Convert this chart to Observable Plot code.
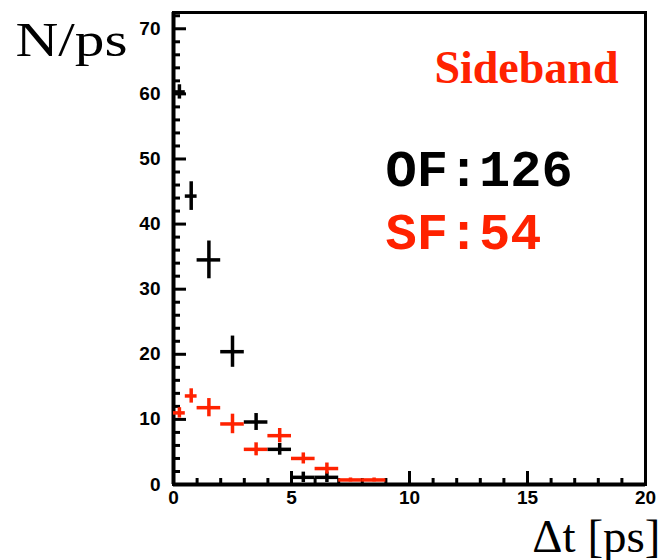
<!DOCTYPE html>
<html>
<head>
<meta charset="utf-8">
<script src="https://cdn.jsdelivr.net/npm/d3@7"></script>
<script src="https://cdn.jsdelivr.net/npm/@observablehq/plot@0.6"></script>
<style>
  html, body { margin: 0; padding: 0; background: #fff; }
  #chart { width: 664px; height: 560px; }
</style>
</head>
<body>
<div id="chart"></div>
<script>
// Bin edges (ps)
const binLo = [0, 0.5, 1, 2, 3, 4, 5, 6, 7, 8];
const binHi = [0.5, 1, 2, 3, 4, 5, 6, 7, 8, 9];
// OF (black) counts per ps and errors
const ofValue = [60.3, 44.3, 34.5, 20.4, 9.6, 5.4, 1.1, 1.1, 0, 0];
const ofError = [1.1, 2.2, 2.9, 2.4, 1.3, 0.9, 0.8, 0.8, 0, 0];
// SF (red) counts per ps and errors
const sfValue = [11.0, 13.6, 11.8, 9.3, 5.4, 7.5, 4.0, 2.45, 0.7, 0.7];
const sfError = [0.8, 1.1, 1.4, 1.5, 1.0, 1.1, 0.85, 0.85, 0.3, 0.3];

const yMajor = [0, 10, 20, 30, 40, 50, 60, 70];
const yMinor = [2, 4, 6, 8, 12, 14, 16, 18, 22, 24, 26, 28, 32, 34, 36, 38, 42, 44, 46, 48, 52, 54, 56, 58, 62, 64, 66, 68, 72];
const xMajor = [0, 5, 10, 15, 20];
const xMinor = [1, 2, 3, 4, 6, 7, 8, 9, 11, 12, 13, 14, 16, 17, 18, 19];

const yLabel = "N/ps";
const xLabel = "Δt [ps]";
const tag = "Sideband";
const ofText = "OF:126";
const sfText = "SF:54";

const RED = "#ff2200";

function rows(values, errors) {
  return binLo.map((lo, i) => ({lo, hi: binHi[i], mid: (lo + binHi[i]) / 2, v: values[i], e: errors[i]}))
    .filter(d => d.v > 0);
}
const ofRows = rows(ofValue, ofError);
const sfRows = rows(sfValue, sfError);

function crosses(data, color) {
  return [
    Plot.ruleY(data, {y: "v", x1: "lo", x2: "hi", stroke: color, strokeWidth: 3.5}),
    Plot.ruleX(data, {x: "mid", y1: d => Math.max(0, d.v - d.e), y2: d => d.v + d.e, stroke: color, strokeWidth: 3.5})
  ];
}

const chart = Plot.plot({
  width: 664,
  height: 560,
  marginLeft: 173,
  marginRight: 19,
  marginTop: 12,
  marginBottom: 76,
  style: {fontFamily: "Liberation Sans, Arial, sans-serif", fontSize: "19px", fontWeight: "bold", background: "#fff", color: "#000"},
  x: {domain: [0, 20]},
  y: {domain: [0, 72.5]},
  marks: [
    // tick labels
    Plot.axisY({ticks: yMajor, tickSize: 0, tickPadding: 13, label: null, tickFormat: d => String(d)}),
    Plot.axisX({ticks: xMajor, tickSize: 0, tickPadding: 6, label: null, tickFormat: d => String(d)}),
    // inward ticks
    Plot.axisY({ticks: yMajor, tickSize: -13, strokeWidth: 3, label: null, tickFormat: () => ""}),
    Plot.axisY({ticks: yMinor, tickSize: -7, strokeWidth: 3, label: null, tickFormat: () => ""}),
    Plot.axisX({ticks: xMajor, tickSize: -13, strokeWidth: 3, label: null, tickFormat: () => ""}),
    Plot.axisX({ticks: xMinor, tickSize: -6, strokeWidth: 3, label: null, tickFormat: () => ""}),
    Plot.frame({stroke: "#000", strokeWidth: 3}),
    Plot.ruleX([0], {stroke: "#000", strokeWidth: 4}),
    Plot.ruleY([0], {stroke: "#000", strokeWidth: 4}),
    ...crosses(ofRows, "#000"),
    ...crosses(sfRows, RED),
    // axis titles
    Plot.text([yLabel], {text: d => d, frameAnchor: "top-left", dx: -158, dy: 43, textAnchor: "start", lineAnchor: "bottom",
      fontFamily: "Liberation Serif, Times New Roman, serif", fontSize: 48, fontWeight: "normal", fill: "#000",
      className: "ylab"}),
    Plot.text([xLabel], {text: d => d, frameAnchor: "bottom-right", dx: 15, dy: 67, textAnchor: "end", lineAnchor: "bottom",
      fontFamily: "Liberation Serif, Times New Roman, serif", fontSize: 47, fontWeight: "normal", fill: "#000"}),
    // annotations
    Plot.text([tag], {text: d => d, frameAnchor: "top-right", dx: -27, dy: 70, textAnchor: "end", lineAnchor: "bottom",
      fontFamily: "Liberation Serif, Times New Roman, serif", fontSize: 46, fontWeight: "bold", fill: RED}),
    Plot.text([ofText], {text: d => d, frameAnchor: "top-left", dx: 212, dy: 173, textAnchor: "start", lineAnchor: "bottom",
      fontFamily: "Liberation Mono, Courier New, monospace", fontSize: 52, fontWeight: "bold", fill: "#000"}),
    Plot.text([sfText], {text: d => d, frameAnchor: "top-left", dx: 212, dy: 236, textAnchor: "start", lineAnchor: "bottom",
      fontFamily: "Liberation Mono, Courier New, monospace", fontSize: 52, fontWeight: "bold", fill: RED})
  ]
});
// widen the y title to match the reference's stretched lettering
d3.select(chart).selectAll("text").filter(function() { return this.textContent === yLabel; })
  .attr("textLength", 112).attr("lengthAdjust", "spacingAndGlyphs");
document.getElementById("chart").appendChild(chart);
</script>
</body>
</html>
